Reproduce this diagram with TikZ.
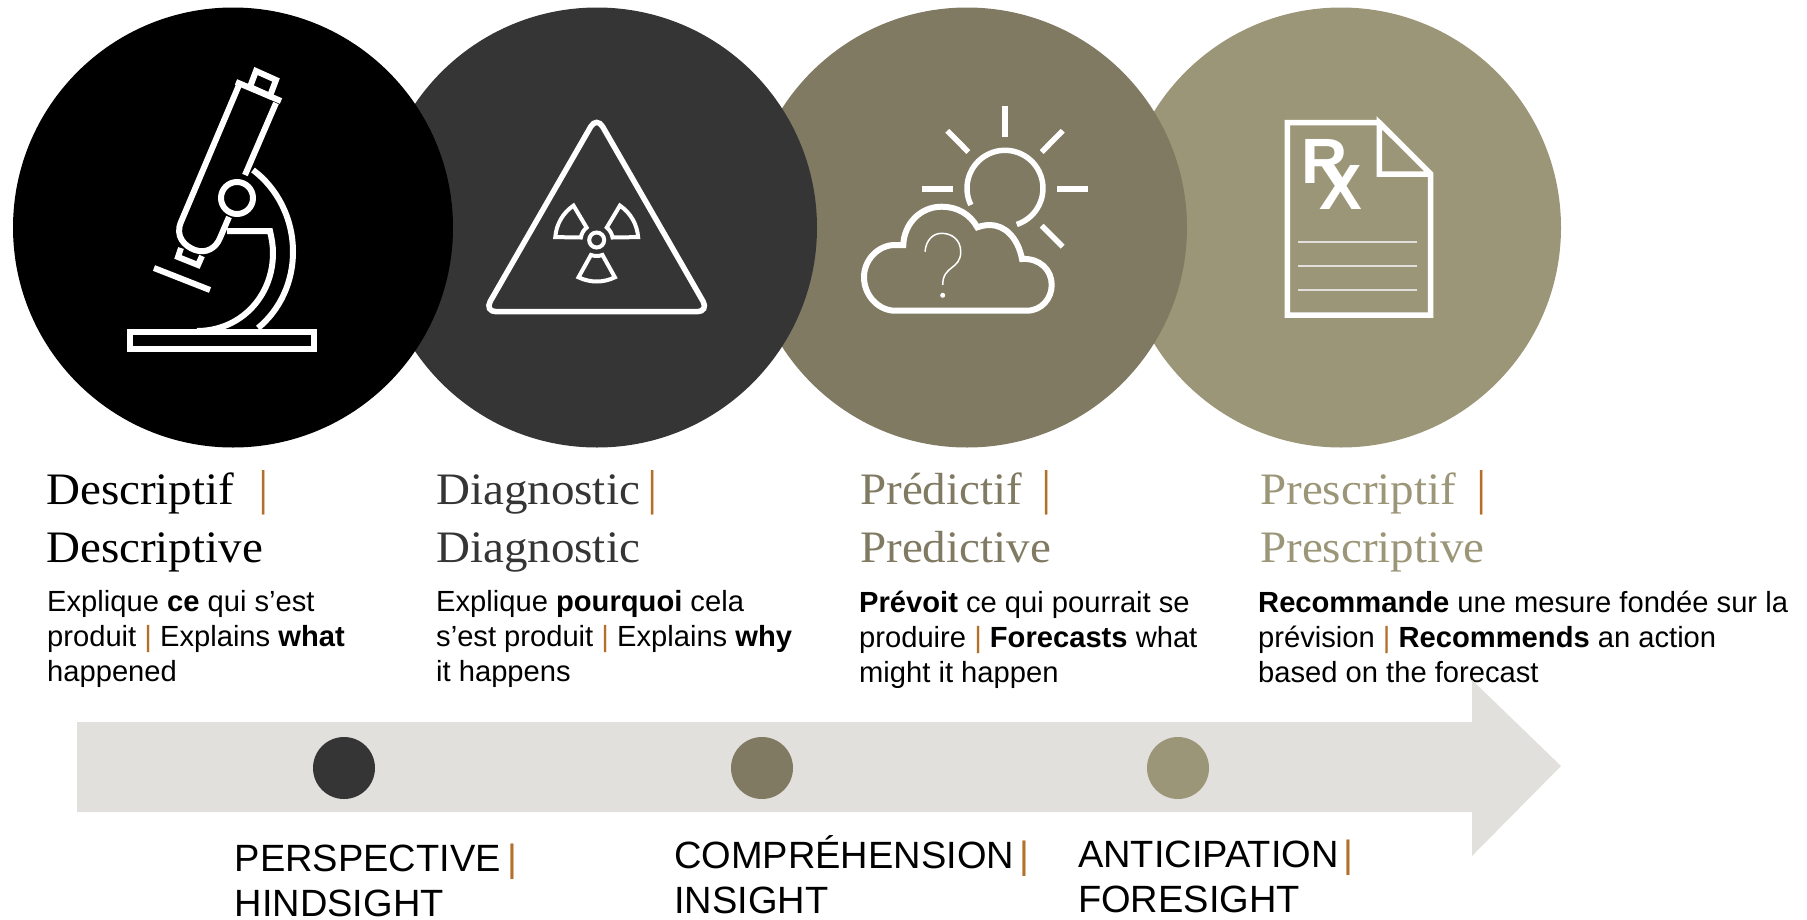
\documentclass[tikz,border=0pt]{standalone}
\usepackage{fontspec}
\setmainfont{Liberation Sans}
\newfontfamily\headfont[FakeStretch=1.045]{Liberation Serif}
\definecolor{ink}{HTML}{353535}
\definecolor{olive}{HTML}{807A62}
\definecolor{sand}{HTML}{9C9679}
\definecolor{band}{HTML}{E1E0DC}
\definecolor{barcol}{HTML}{B46F2B}
\newcommand{\pipe}{\textcolor{barcol}{|}}
\newcommand{\headpipe}{\textcolor{barcol}{\fontsize{49}{58}\selectfont |}}
\tikzset{
    disc/.style={circle,minimum size=440pt,inner sep=0pt},
    dot/.style={circle,minimum size=62pt,inner sep=0pt},
    head/.style={anchor=north west,inner sep=0pt,align=left,font=\headfont\fontsize{45}{58}\selectfont},
    body/.style={anchor=north west,inner sep=0pt,align=left,font=\fontsize{29.15}{35}\selectfont},
    gain/.style={anchor=north west,inner sep=0pt,align=left,font=\fontsize{38}{45}\selectfont},
    icon/.style={draw=white,line width=6pt,miter limit=6}
}
\begin{document}
\begin{tikzpicture}[x=1pt,y=-1pt]
    \useasboundingbox (0,0) rectangle (1807,919);

    % circles, last one first
    \draw (1341,227.5) node (prescr) [disc,fill=sand] {};
    \draw (967,227.5) node (predic) [disc,fill=olive] {};
    \draw (597,227.5) node (diagn) [disc,fill=ink] {};
    \draw (233,227.5) node (descr) [disc,fill=black] {};

    % microscope
    \draw[icon] (130,331.5) rectangle (314,349);
    \draw[icon] (276,103) -- (245,175);
    \draw[icon] (236,82) -- (281,101);
    \draw[icon] (239,85) -- (181,222) .. controls (175,236) and (184,246) .. (195,250) .. controls (206,254) and (216,248) .. (220,238) -- (229,217);
    \draw[icon] (256,71) -- (276,80) -- (270,96) -- (250,87) -- cycle;
    \draw[icon] (181,248) -- (178,257) -- (198,265) -- (202,256);
    \draw[icon] (154,268) -- (210,290);
    \draw[icon] (237,198) circle (16);
    \draw[icon] (253,170) .. controls (277,188) and (293,218) .. (293,252) .. controls (293,282) and (280,310) .. (258,328);
    \draw[icon] (227,231) -- (270,231) .. controls (272,240) and (273,246) .. (273,253) .. controls (273,297) and (240,331) .. (197,331);

    % warning sign
    \draw[icon,line width=5.5pt,rounded corners=12pt] (484.3,311.7) -- (596.7,116.3) -- (709,311.7) -- cycle;
    \begin{scope}[shift={(596.7,240)},y=1pt]
        \draw[icon,line width=4pt] (0,0) circle (7.5);
        \foreach \a in {0,120,240}
            \draw[icon,line width=4pt,rotate=\a] (124:41.5) arc (124:176:41.5) -- (171:16) arc (171:129:16) -- cycle;
    \end{scope}

    % sun and cloud
    \begin{scope}[shift={(1005,188.3)},y=1pt]
        \draw[icon,line width=5.5pt] (206:38) arc (206:-72:38);
    \end{scope}
    \draw[icon] (1005,106) -- (1005,136.7);
    \draw[icon] (922.3,188.7) -- (952.7,188.7);
    \draw[icon] (1057.3,188.7) -- (1088,188.7);
    \draw[icon,line width=5.5pt] (947.3,130.7) -- (968.3,152);
    \draw[icon,line width=5.5pt] (1062.7,130.7) -- (1041.7,152);
    \draw[icon,line width=5.5pt] (1041.7,225.7) -- (1062.7,246.7);
    \draw[icon] (895,310.7) -- (1026.7,310.7) .. controls (1042,310.7) and (1051.7,298) .. (1051.7,285) .. controls (1051.7,270) and (1040,258) .. (1022,259)
        .. controls (1018,238) and (1005,225) .. (990,225) .. controls (985,225) and (981,226) .. (977.3,227.3)
        .. controls (970,214) and (957,206.7) .. (941.7,206.7) .. controls (920,206.7) and (904,224) .. (903.3,245)
        -- (895,245) .. controls (878,245) and (864,260) .. (864,277) .. controls (864,296) and (879,310.7) .. (895,310.7) -- cycle;
    \draw[draw=white,line width=1.5pt] (925,251.7) .. controls (926,240) and (933,233.3) .. (941.7,233.3) .. controls (952,233.3) and (960.7,240) .. (960.7,251.7) .. controls (960.7,270) and (942.7,265) .. (942.7,285);
    \fill[white] (942.7,295.3) circle (2.5);

    % prescription
    \draw[icon,line width=5.5pt] (1379.3,122.7) -- (1287.3,122.7) -- (1287.3,315) -- (1430.7,315) -- (1430.7,174) -- (1379.3,122.7) -- (1379.3,174) -- (1430.7,174);
    \foreach \y in {242,266,290}
        \draw[draw=band,line width=1.5pt] (1298,\y) -- (1417.3,\y);
    \node (rxr) [anchor=base west,inner sep=0pt,text=white,font=\bfseries\fontsize{64}{64}\selectfont] at (1301,183.3) {R};
    \node (rxx) [anchor=base west,inner sep=0pt,text=white,font=\bfseries\fontsize{64}{64}\selectfont] at (1319,209.3) {X};

    % titles
    \node (t1) [head] at (46,470.5) {Descriptif\hspace{24pt}\headpipe\\Descriptive};
    \node (t2) [head,text=ink] at (436,470.5) {Diagnostic\hspace{8pt}\headpipe\\Diagnostic};
    \node (t3) [head,text=olive] at (860,470.5) {Prédictif\hspace{19pt}\headpipe\\Predictive};
    \node (t4) [head,text=sand] at (1260,470.5) {Prescriptif\hspace{20pt}\headpipe\\Prescriptive};

    % descriptions
    \node (b1) [body] at (47,590.5) {Explique \textbf{ce} qui s’est\\produit \pipe{} Explains \textbf{what}\\happened};
    \node (b2) [body] at (436,590.5) {Explique \textbf{pourquoi} cela\\s’est produit \pipe{} Explains \textbf{why}\\it happens};
    \node (b3) [body] at (859,590.5) {\textbf{Prévoit} ce qui pourrait se\\produire \pipe{} \textbf{Forecasts} what\\might it happen};
    \node (b4) [body] at (1258,590.5) {\textbf{Recommande} une mesure fondée sur la\\prévision \pipe{} \textbf{Recommends} an action\\based on the forecast};

    % timeline
    \fill[band] (77,722) -- (1472,722) -- (1472,680) -- (1561,766) -- (1472,856) -- (1472,812) -- (77,812) -- cycle;
    \draw (344,768) node (d1) [dot,fill=ink] {};
    \draw (762,768) node (d2) [dot,fill=olive] {};
    \draw (1178,768) node (d3) [dot,fill=sand] {};

    \node (g1) [gain] at (234.5,843.5) {PERSPECTIVE\hspace{7pt}\pipe\\HINDSIGHT};
    \node (g2) [gain] at (674,835) {COMPRÉHENSION\hspace{5pt}\pipe\\INSIGHT};
    \node (g3) [gain] at (1078,839.5) {ANTICIPATION\hspace{5pt}\pipe\\FORESIGHT};
\end{tikzpicture}
\end{document}
